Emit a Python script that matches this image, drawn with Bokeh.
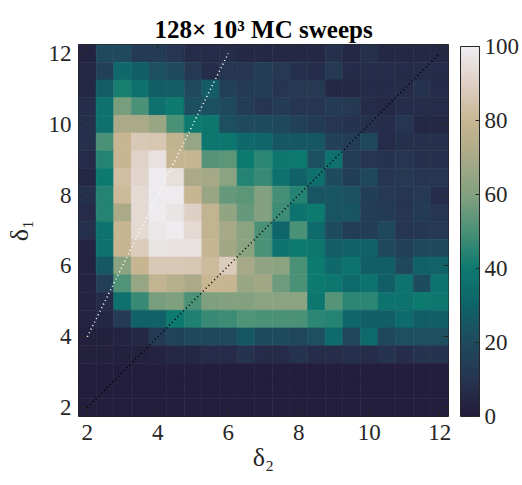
import numpy as np
from bokeh.plotting import figure
from bokeh.models import (ColumnDataSource, LinearColorMapper, ColorBar, FixedTicker,
                          LinearAxis, Range1d)
from bokeh.embed import file_html
from bokeh.resources import INLINE

# ---------------- data ----------------
delta2 = [2 + 0.5 * i for i in range(21)]            # x cell centres
delta1 = [12 - 0.5 * j for j in range(21)]           # y cell centres, top row first
counts = [
    [3, 20, 20, 13, 13, 10, 6, 6, 7, 5, 5, 5, 5, 5, 8, 5, 8, 5, 5, 5, 5],
    [5, 16, 32, 28, 22, 20, 12, 7, 10, 10, 14, 12, 8, 7, 12, 6, 7, 7, 6, 6, 6],
    [5, 27, 42, 36, 28, 27, 20, 27, 16, 13, 14, 10, 12, 12, 5, 5, 6, 6, 6, 9, 6],
    [7, 36, 58, 50, 36, 40, 22, 23, 20, 14, 10, 13, 10, 10, 13, 12, 6, 5, 7, 7, 6],
    [8, 36, 70, 70, 66, 50, 40, 38, 22, 20, 21, 19, 16, 13, 10, 9, 8, 7, 10, 5, 5],
    [8, 50, 80, 87, 86, 77, 65, 38, 38, 32, 31, 25, 25, 25, 16, 14, 19, 6, 8, 8, 8],
    [6, 44, 80, 91, 96, 79, 80, 52, 53, 40, 45, 38, 40, 23, 36, 14, 10, 9, 10, 8, 8],
    [5, 40, 83, 92, 99, 95, 70, 69, 62, 44, 47, 36, 29, 35, 21, 15, 19, 10, 12, 10, 10],
    [8, 44, 81, 93, 99, 99, 80, 66, 55, 53, 60, 49, 44, 24, 24, 23, 15, 12, 10, 12, 7],
    [6, 44, 70, 93, 99, 97, 90, 78, 64, 55, 60, 48, 37, 40, 24, 24, 14, 13, 10, 13, 10],
    [8, 37, 79, 93, 98, 99, 93, 78, 69, 62, 50, 31, 50, 33, 21, 14, 14, 19, 10, 11, 12],
    [3, 36, 79, 88, 97, 96, 96, 79, 68, 62, 50, 37, 40, 38, 27, 29, 29, 19, 16, 19, 19],
    [3, 26, 62, 80, 87, 87, 86, 82, 88, 69, 63, 62, 50, 40, 32, 37, 28, 28, 19, 29, 30],
    [3, 15, 51, 65, 78, 74, 70, 80, 80, 66, 68, 56, 50, 40, 39, 33, 37, 28, 37, 21, 37],
    [3, 6, 36, 47, 58, 59, 50, 59, 60, 60, 62, 62, 62, 39, 52, 45, 45, 37, 37, 40, 38],
    [3, 4, 13, 29, 29, 40, 43, 47, 48, 51, 50, 50, 50, 45, 44, 31, 28, 28, 33, 28, 28],
    [2, 2, 3, 5, 13, 17, 19, 19, 20, 25, 21, 21, 18, 22, 33, 18, 33, 19, 22, 22, 22],
    [2, 2, 2, 2, 3, 5, 5, 6, 6, 9, 6, 6, 9, 7, 7, 8, 7, 9, 7, 9, 9],
    [1] * 21,
    [1] * 21,
    [1] * 21,
]
diag_x = [2, 12]
diag_y = [2, 12]
line2_x = [2, 6]
line2_y = [4, 12]
axis_ticks = [2, 4, 6, 8, 10, 12]
cbar_ticks = [0, 20, 40, 60, 80, 100]
title_text = "128× 10³ MC sweeps"

# ---------------- colormap ----------------
key_vals = [0, 10, 20, 30, 40, 50, 60, 70, 80, 90, 100]
key_cols = ["#231c3b", "#263551", "#1f4a5e", "#0f6469", "#0d7a70", "#4a9177",
            "#83a17f", "#a9aa88", "#c8b693", "#dfcfc4", "#eeedf2"]


def hex2rgb(h):
    return [int(h[i:i + 2], 16) for i in (1, 3, 5)]


kc = np.array([hex2rgb(c) for c in key_cols], dtype=float)
vv = np.linspace(0, 100, 256)
palette = []
for v in vv:
    rgb = [np.interp(v, key_vals, kc[:, k]) for k in range(3)]
    palette.append("#%02x%02x%02x" % tuple(int(round(c)) for c in rgb))

mapper = LinearColorMapper(palette=palette, low=0, high=100)

xs, ys, vs = [], [], []
for j, yv in enumerate(delta1):
    for i, xv in enumerate(delta2):
        xs.append(xv)
        ys.append(yv)
        vs.append(counts[j][i])
src = ColumnDataSource(dict(x=xs, y=ys, v=vs))

FONT = "Liberation Serif"
INK = "#262626"

p = figure(width=522, height=485, output_backend="svg", toolbar_location=None,
           x_range=Range1d(1.75, 12.25), y_range=Range1d(1.75, 12.25),
           min_border_left=78, min_border_right=73, min_border_top=44, min_border_bottom=69,
           title=title_text)
p.rect(x="x", y="y", width=0.5, height=0.5, source=src,
       fill_color={"field": "v", "transform": mapper},
       line_color={"field": "v", "transform": mapper}, line_width=0.6)
p.line(diag_x, diag_y, line_color="black", line_width=1.6, line_dash="1 3")
p.line(line2_x, line2_y, line_color="white", line_width=1.6, line_dash="1 3")

p.grid.visible = False
p.outline_line_color = INK
p.outline_line_width = 1
p.background_fill_color = "white"

p.title.text_font = FONT
p.title.text_font_style = "bold"
p.title.text_font_size = "25px"
p.title.align = "center"
p.title.text_color = "black"
p.title.standoff = 3

for ax in (p.xaxis[0], p.yaxis[0]):
    ax.ticker = FixedTicker(ticks=axis_ticks)
    ax.major_label_text_font = FONT
    ax.major_label_text_font_size = "23px"
    ax.major_label_text_color = INK
    ax.major_tick_in = 5
    ax.major_tick_out = 0
    ax.major_tick_line_color = INK
    ax.minor_tick_line_color = None
    ax.axis_line_color = None
    ax.axis_label_text_font = FONT
    ax.axis_label_text_font_size = "26px"
    ax.axis_label_text_font_style = "normal"
    ax.axis_label_text_color = INK

p.xaxis[0].axis_label = "δ₂"
p.yaxis[0].axis_label = "δ₁"
p.xaxis[0].major_label_standoff = 8
p.yaxis[0].major_label_standoff = 7
p.xaxis[0].axis_label_standoff = 0
p.yaxis[0].axis_label_standoff = 12

blank = {t: "" for t in axis_ticks}
top_ax = LinearAxis(ticker=FixedTicker(ticks=axis_ticks), major_label_overrides=blank,
                    major_label_standoff=0, major_tick_in=5, major_tick_out=0,
                    minor_tick_line_color=None, axis_line_color=None,
                    major_tick_line_color=INK)
right_ax = LinearAxis(ticker=FixedTicker(ticks=axis_ticks), major_label_overrides=blank,
                      major_label_standoff=0, major_tick_in=5, major_tick_out=0,
                      minor_tick_line_color=None, axis_line_color=None,
                      major_tick_line_color=INK)
p.add_layout(top_ax, "above")
p.add_layout(right_ax, "right")

cb = ColorBar(color_mapper=mapper, ticker=FixedTicker(ticks=cbar_ticks),
              width=19, height=370, padding=0, margin=0,
              major_label_text_font=FONT, major_label_text_font_size="23px",
              major_label_text_color=INK, major_tick_in=4, major_tick_out=0,
              major_tick_line_color=INK, bar_line_color=INK,
              border_line_color=None, background_fill_color=None,
              label_standoff=5, location=(12, 0))
p.add_layout(cb, "right")

open("out.html", "w").write(file_html(p, INLINE))
